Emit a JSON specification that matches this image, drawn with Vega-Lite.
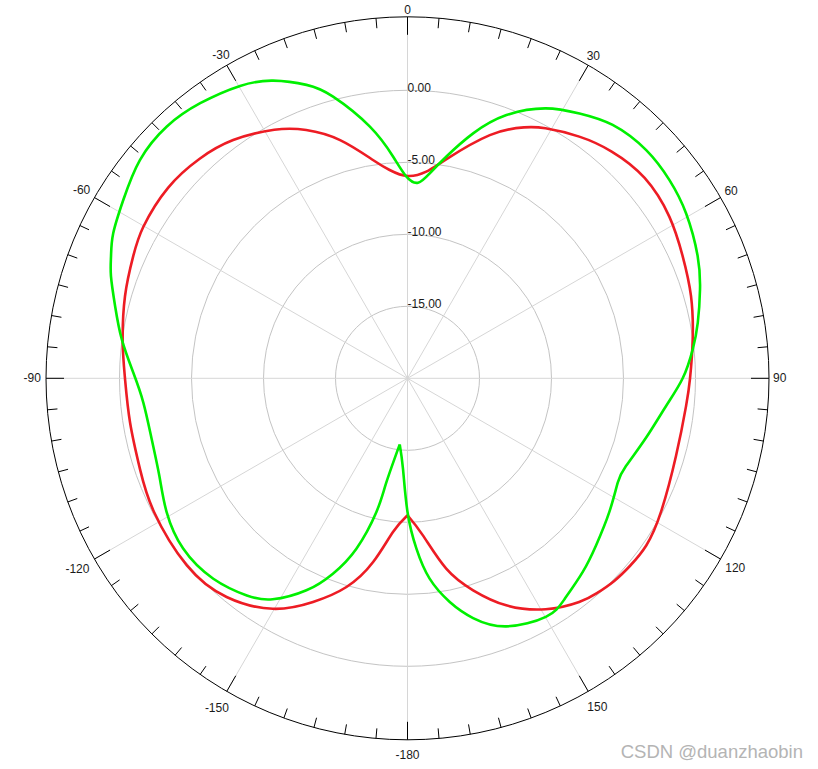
{
  "$schema": "https://vega.github.io/schema/vega-lite/v6.json",
  "width": 818,
  "height": 769,
  "autosize": "none",
  "padding": 0,
  "background": "white",
  "config": {"view": {"stroke": null}},
  "datasets": {
    "curves": [
      {"s":"A","a":-180,"db":-10.49},{"s":"A","a":-174.6,"db":-9.28},{"s":"A","a":-169.4,"db":-7.02},{"s":"A","a":-163.7,"db":-4.9},
      {"s":"A","a":-157.1,"db":-3.14},{"s":"A","a":-149.7,"db":-1.46},{"s":"A","a":-140.4,"db":-0.29},{"s":"A","a":-130.3,"db":0.09},
      {"s":"A","a":-117.8,"db":-0.1},{"s":"A","a":-108.8,"db":-0.38},{"s":"A","a":-99.1,"db":-0.49},{"s":"A","a":-90,"db":-0.38},
      {"s":"A","a":-82.9,"db":-0.07},{"s":"A","a":-73.8,"db":0.43},{"s":"A","a":-66,"db":0.85},{"s":"A","a":-60.1,"db":1.15},
      {"s":"A","a":-51.5,"db":1.25},{"s":"A","a":-43.5,"db":1.0},{"s":"A","a":-36.2,"db":0.5},{"s":"A","a":-28.2,"db":-0.42},
      {"s":"A","a":-22.2,"db":-1.38},{"s":"A","a":-15.8,"db":-2.81},{"s":"A","a":-9,"db":-4.65},{"s":"A","a":-4.9,"db":-5.48},
      {"s":"A","a":0,"db":-5.95},{"s":"A","a":5.2,"db":-5.59},{"s":"A","a":10,"db":-4.56},{"s":"A","a":18.7,"db":-2.17},
      {"s":"A","a":24.9,"db":-0.79},{"s":"A","a":28.9,"db":-0.17},{"s":"A","a":35.4,"db":0.59},{"s":"A","a":42,"db":1.19},
      {"s":"A","a":49.8,"db":1.56},{"s":"A","a":58.3,"db":1.37},{"s":"A","a":66,"db":0.91},{"s":"A","a":73.8,"db":0.5},
      {"s":"A","a":82.2,"db":-0.01},{"s":"A","a":90,"db":-0.38},{"s":"A","a":95.7,"db":-0.56},{"s":"A","a":106.1,"db":-0.59},
      {"s":"A","a":117.8,"db":-0.1},{"s":"A","a":125,"db":0.24},{"s":"A","a":130.1,"db":0.21},{"s":"A","a":134.5,"db":0.1},
      {"s":"A","a":138.6,"db":-0.11},{"s":"A","a":142.5,"db":-0.42},
      {"s":"A","a":149.1,"db":-1.31},{"s":"A","a":156.5,"db":-2.81},{"s":"A","a":162.8,"db":-4.59},{"s":"A","a":168.5,"db":-6.51},
      {"s":"A","a":174.4,"db":-9.04},{"s":"A","a":180,"db":-10.49},
      {"s":"B","a":-180,"db":-10.72},{"s":"B","a":-177.2,"db":-13.67},{"s":"B","a":-173.3,"db":-15.38},{"s":"B","a":186.7,"db":-15.38},{"s":"B","a":-168.5,"db":-12.6},
      {"s":"B","a":-166.9,"db":-10.47},{"s":"B","a":-163.3,"db":-7.65},{"s":"B","a":-159.1,"db":-5.48},{"s":"B","a":-154.5,"db":-3.69},
      {"s":"B","a":-148.6,"db":-2.02},{"s":"B","a":-143.5,"db":-1.24},{"s":"B","a":-135.9,"db":-0.62},{"s":"B","a":-127.2,"db":-0.44},
      {"s":"B","a":-119,"db":-0.87},{"s":"B","a":-111.5,"db":-1.48},{"s":"B","a":-103.4,"db":-1.74},{"s":"B","a":-95.3,"db":-1.58},
      {"s":"B","a":-88.8,"db":-0.95},{"s":"B","a":-82.2,"db":0.03},{"s":"B","a":-76.1,"db":0.92},{"s":"B","a":-71,"db":1.78},
      {"s":"B","a":-67.6,"db":2.27},{"s":"B","a":-63.8,"db":2.78},{"s":"B","a":-57.9,"db":3.3},{"s":"B","a":-50.8,"db":3.98},
      {"s":"B","a":-43.7,"db":4.19},{"s":"B","a":-37,"db":3.92},{"s":"B","a":-29.8,"db":3.4},{"s":"B","a":-24.3,"db":2.68},
      {"s":"B","a":-19,"db":1.55},{"s":"B","a":-14.8,"db":0.23},{"s":"B","a":-8.5,"db":-2.33},{"s":"B","a":-3.7,"db":-4.58},
      {"s":"B","a":-0.3,"db":-6.0},{"s":"B","a":3.1,"db":-6.4},{"s":"B","a":6.2,"db":-5.68},{"s":"B","a":9.9,"db":-4.38},
      {"s":"B","a":15,"db":-2.39},{"s":"B","a":20.6,"db":-0.47},{"s":"B","a":27.1,"db":1.06},{"s":"B","a":33,"db":1.93},
      {"s":"B","a":39,"db":2.64},{"s":"B","a":46.3,"db":2.93},{"s":"B","a":52.9,"db":2.81},{"s":"B","a":59.4,"db":2.48},
      {"s":"B","a":67.1,"db":1.87},{"s":"B","a":73.1,"db":1.23},{"s":"B","a":79.2,"db":0.52},{"s":"B","a":84.2,"db":-0.09},
      {"s":"B","a":90,"db":-0.89},{"s":"B","a":96.1,"db":-1.94},{"s":"B","a":104,"db":-2.93},{"s":"B","a":111.9,"db":-3.65},
      {"s":"B","a":116.4,"db":-3.7},{"s":"B","a":123.5,"db":-3.19},{"s":"B","a":131.5,"db":-2.51},{"s":"B","a":137.9,"db":-1.86},
      {"s":"B","a":144.6,"db":-1.18},{"s":"B","a":149.9,"db":-0.85},{"s":"B","a":158.3,"db":-1.46},{"s":"B","a":164.7,"db":-2.74},
      {"s":"B","a":169.3,"db":-4.19},{"s":"B","a":173.7,"db":-6.0},{"s":"B","a":177,"db":-8.15}
    ]
  },
  "layer": [
    {
      "data": {"values": [{"level": -15}, {"level": -10}, {"level": -5}, {"level": 0}]},
      "transform": [{"calculate": "datum.level + 20", "as": "r"}, {"calculate": "0", "as": "c"}],
      "mark": {"type": "point", "shape": "circle", "filled": false, "stroke": "#c4c4c4", "strokeWidth": 1, "opacity": 1},
      "encoding": {
        "x": {"field": "c", "type": "quantitative", "scale": {"domain": [-28.299, 28.507], "nice": false, "zero": false}, "axis": null},
        "y": {"field": "c", "type": "quantitative", "scale": {"domain": [-27.132, 26.271], "nice": false, "zero": false}, "axis": null},
        "size": {"field": "r", "type": "quantitative", "scale": {"type": "pow", "exponent": 2, "domain": [0, 25.104], "range": [0, 522729], "zero": true}, "legend": null}
      }
    },
    {
      "data": {"values": [{"a":0},{"a":30},{"a":60},{"a":90},{"a":120},{"a":150},{"a":180},{"a":210},{"a":240},{"a":270},{"a":300},{"a":330}]},
      "transform": [
        {"calculate": "0", "as": "c"},
        {"calculate": "25.104*sin(datum.a*PI/180)", "as": "sx"},
        {"calculate": "25.104*cos(datum.a*PI/180)", "as": "sy"}
      ],
      "mark": {"type": "rule", "stroke": "#d6d6d6", "strokeWidth": 1},
      "encoding": {
        "x": {"field": "c", "type": "quantitative", "scale": {"domain": [-28.299, 28.507], "nice": false, "zero": false}, "axis": null},
        "y": {"field": "c", "type": "quantitative", "scale": {"domain": [-27.132, 26.271], "nice": false, "zero": false}, "axis": null},
        "x2": {"field": "sx"},
        "y2": {"field": "sy"}
      }
    },
    {
      "data": {"values": [{"level": 5.104}]},
      "transform": [{"calculate": "datum.level + 20", "as": "r"}, {"calculate": "0", "as": "c"}],
      "mark": {"type": "point", "shape": "circle", "filled": false, "stroke": "#000000", "strokeWidth": 1, "opacity": 1},
      "encoding": {
        "x": {"field": "c", "type": "quantitative", "scale": {"domain": [-28.299, 28.507], "nice": false, "zero": false}, "axis": null},
        "y": {"field": "c", "type": "quantitative", "scale": {"domain": [-27.132, 26.271], "nice": false, "zero": false}, "axis": null},
        "size": {"field": "r", "type": "quantitative", "scale": {"type": "pow", "exponent": 2, "domain": [0, 25.104], "range": [0, 522729], "zero": true}, "legend": null}
      }
    },
    {
      "data": {"values": [
        {"a":0},{"a":5},{"a":10},{"a":15},{"a":20},{"a":25},{"a":30},{"a":35},{"a":40},{"a":45},{"a":50},{"a":55},
        {"a":60},{"a":65},{"a":70},{"a":75},{"a":80},{"a":85},{"a":90},{"a":95},{"a":100},{"a":105},{"a":110},{"a":115},
        {"a":120},{"a":125},{"a":130},{"a":135},{"a":140},{"a":145},{"a":150},{"a":155},{"a":160},{"a":165},{"a":170},{"a":175},
        {"a":180},{"a":185},{"a":190},{"a":195},{"a":200},{"a":205},{"a":210},{"a":215},{"a":220},{"a":225},{"a":230},{"a":235},
        {"a":240},{"a":245},{"a":250},{"a":255},{"a":260},{"a":265},{"a":270},{"a":275},{"a":280},{"a":285},{"a":290},{"a":295},
        {"a":300},{"a":305},{"a":310},{"a":315},{"a":320},{"a":325},{"a":330},{"a":335},{"a":340},{"a":345},{"a":350},{"a":355}
      ]},
      "transform": [
        {"calculate": "datum.a % 30 == 0 ? 1.25 : 0.7", "as": "len"},
        {"calculate": "25.104*sin(datum.a*PI/180)", "as": "tx"},
        {"calculate": "25.104*cos(datum.a*PI/180)", "as": "ty"},
        {"calculate": "(25.104-datum.len)*sin(datum.a*PI/180)", "as": "tx2"},
        {"calculate": "(25.104-datum.len)*cos(datum.a*PI/180)", "as": "ty2"}
      ],
      "mark": {"type": "rule", "stroke": "#000000", "strokeWidth": 1},
      "encoding": {
        "x": {"field": "tx", "type": "quantitative", "scale": {"domain": [-28.299, 28.507], "nice": false, "zero": false}, "axis": null},
        "y": {"field": "ty", "type": "quantitative", "scale": {"domain": [-27.132, 26.271], "nice": false, "zero": false}, "axis": null},
        "x2": {"field": "tx2"},
        "y2": {"field": "ty2"}
      }
    },
    {
      "data": {"values": [{"level": 0, "t": "0.00"}, {"level": -5, "t": "-5.00"}, {"level": -10, "t": "-10.00"}, {"level": -15, "t": "-15.00"}]},
      "transform": [{"calculate": "datum.level + 20", "as": "ry"}, {"calculate": "0", "as": "c"}],
      "mark": {"type": "text", "align": "left", "baseline": "middle", "dy": -2, "fontSize": 12, "font": "Liberation Sans", "color": "#1a1a1a"},
      "encoding": {
        "x": {"field": "c", "type": "quantitative", "scale": {"domain": [-28.299, 28.507], "nice": false, "zero": false}, "axis": null},
        "y": {"field": "ry", "type": "quantitative", "scale": {"domain": [-27.132, 26.271], "nice": false, "zero": false}, "axis": null},
        "text": {"field": "t"}
      }
    },
    {
      "data": {"values": [
        {"a":0,"t":"0"},{"a":30,"t":"30"},{"a":60,"t":"60"},{"a":90,"t":"90"},{"a":120,"t":"120"},{"a":150,"t":"150"},
        {"a":180,"t":"-180"},{"a":-150,"t":"-150"},{"a":-120,"t":"-120"},{"a":-90,"t":"-90"},{"a":-60,"t":"-60"},{"a":-30,"t":"-30"}
      ]},
      "transform": [
        {"calculate": "datum.a*PI/180", "as": "rad"},
        {"calculate": "(366 + abs(sin(datum.rad))*3.1*length(datum.t) + abs(cos(datum.rad))*(6.65 - 4.35*cos(datum.rad)))/14.4", "as": "lr"},
        {"calculate": "datum.lr*sin(datum.rad)", "as": "lx"},
        {"calculate": "datum.lr*cos(datum.rad)", "as": "ly"}
      ],
      "mark": {"type": "text", "align": "center", "baseline": "middle", "fontSize": 12, "font": "Liberation Sans", "color": "#1a1a1a"},
      "encoding": {
        "x": {"field": "lx", "type": "quantitative", "scale": {"domain": [-28.299, 28.507], "nice": false, "zero": false}, "axis": null},
        "y": {"field": "ly", "type": "quantitative", "scale": {"domain": [-27.132, 26.271], "nice": false, "zero": false}, "axis": null},
        "text": {"field": "t"}
      }
    },
    {
      "data": {"name": "curves"},
      "transform": [
        {"filter": "datum.s == 'A'"},
        {"calculate": "(datum.db+20)*sin(datum.a*PI/180)", "as": "px"},
        {"calculate": "(datum.db+20)*cos(datum.a*PI/180)", "as": "py"}
      ],
      "mark": {"type": "line", "stroke": "#ed1c24", "strokeWidth": 2.6, "interpolate": "natural"},
      "encoding": {
        "x": {"field": "px", "type": "quantitative", "scale": {"domain": [-28.299, 28.507], "nice": false, "zero": false}, "axis": null},
        "y": {"field": "py", "type": "quantitative", "scale": {"domain": [-27.132, 26.271], "nice": false, "zero": false}, "axis": null},
        "order": {"field": "a", "type": "quantitative"}
      }
    },
    {
      "data": {"name": "curves"},
      "transform": [
        {"filter": "datum.s == 'B'"},
        {"calculate": "datum.a < -173.3 ? datum.a + 360 : datum.a", "as": "o"},
        {"calculate": "(datum.db+20)*sin(datum.a*PI/180)", "as": "px"},
        {"calculate": "(datum.db+20)*cos(datum.a*PI/180)", "as": "py"}
      ],
      "mark": {"type": "line", "stroke": "#00f000", "strokeWidth": 2.6, "interpolate": "natural"},
      "encoding": {
        "x": {"field": "px", "type": "quantitative", "scale": {"domain": [-28.299, 28.507], "nice": false, "zero": false}, "axis": null},
        "y": {"field": "py", "type": "quantitative", "scale": {"domain": [-27.132, 26.271], "nice": false, "zero": false}, "axis": null},
        "order": {"field": "o", "type": "quantitative"}
      }
    },
    {
      "data": {"values": [{"t": "CSDN @duanzhaobin", "wx": 27.465, "wy": -25.95}]},
      "mark": {"type": "text", "align": "right", "baseline": "middle", "fontSize": 18.5, "font": "Liberation Sans", "color": "#b4b4b4"},
      "encoding": {
        "x": {"field": "wx", "type": "quantitative", "scale": {"domain": [-28.299, 28.507], "nice": false, "zero": false}, "axis": null},
        "y": {"field": "wy", "type": "quantitative", "scale": {"domain": [-27.132, 26.271], "nice": false, "zero": false}, "axis": null},
        "text": {"field": "t"}
      }
    }
  ]
}
